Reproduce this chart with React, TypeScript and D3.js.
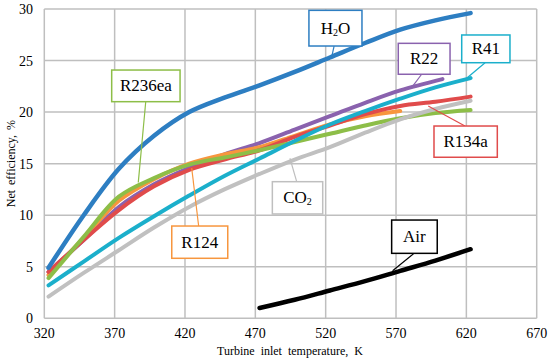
import React from "react";
import * as d3 from "d3";

const W = 550;
const H = 363;

const xTicks = [320, 370, 420, 470, 520, 570, 620, 670];
const yTicks = [0, 5, 10, 15, 20, 25, 30];

const temps = [323, 348, 373, 398, 423, 448, 473, 498, 523, 548, 573, 598, 623];
const h2oVals = [4.9, 10.0, 14.5, 17.7, 20.0, 21.4, 22.6, 23.9, 25.3, 26.7, 28.0, 28.9, 29.6];
const r41Vals = [3.2, 5.5, 7.8, 9.9, 11.9, 13.8, 15.5, 17.2, 18.8, 20.1, 21.3, 22.4, 23.3];
const r134aVals = [4.5, 7.6, 10.5, 12.8, 14.4, 15.4, 16.3, 17.6, 18.7, 19.8, 20.6, 21.0, 21.5];
const r236eaVals = [3.9, 7.9, 11.8, 13.6, 14.9, 15.6, 16.3, 17.1, 17.9, 18.7, 19.4, 19.9, 20.2];
const co2Vals = [2.1, 4.4, 6.6, 8.8, 10.8, 12.5, 14.0, 15.4, 16.6, 18.0, 19.3, 20.3, 21.1];

const r22Temps = [323, 348, 373, 398, 423, 448, 473, 498, 523, 548, 573, 603];
const r22Vals = [4.5, 7.6, 10.8, 13.0, 14.6, 15.9, 17.0, 18.3, 19.6, 20.9, 22.1, 23.2];

const r124Temps = [323, 348, 373, 398, 423, 448, 473, 498, 523, 548, 573];
const r124Vals = [4.2, 7.8, 11.4, 13.5, 15.0, 15.9, 16.6, 17.7, 18.8, 19.6, 20.1];

const airTemps = [473, 498, 523, 548, 573, 598, 623];
const airVals = [1.0, 1.8, 2.7, 3.6, 4.6, 5.6, 6.7];

const seriesNames = ["R22", "R124", "R134a", "R236ea", "R41", "CO2", "H2O", "Air"];
const seriesTemps = [r22Temps, r124Temps, temps, temps, temps, temps, temps, airTemps];
const seriesVals = [r22Vals, r124Vals, r134aVals, r236eaVals, r41Vals, co2Vals, h2oVals, airVals];
const seriesColors = ["#8A62AE", "#F7963E", "#E04B4B", "#8DBE48", "#1BAFCB", "#C0C0C0", "#2D7EC2", "#000000"];
const seriesWidths = [4, 4, 4, 4, 4, 4, 4.5, 4.5];

// annotation callouts, in data units: box [t0, v0, t1, v1], leader [t0, v0, t1, v1]
const noteNames = ["H2O", "R22", "R41", "R134a", "R236ea", "R124", "CO2", "Air"];
const noteColors = ["#2D7EC2", "#8A62AE", "#1BAFCB", "#E04B4B", "#8DBE48", "#F7963E", "#BFBFBF", "#000000"];
const noteBoxes = [
  [508.1, 29.87, 545.8, 26.41],
  [571.6, 26.67, 608.4, 23.67],
  [616.7, 27.48, 651.0, 24.79],
  [597.0, 18.65, 642.0, 15.62],
  [367.9, 24.08, 416.5, 21.01],
  [410.6, 8.95, 450.4, 5.82],
  [482.1, 13.25, 517.9, 10.12],
  [566.9, 9.53, 599.3, 6.3],
];
const noteLeaders = [
  [526.0, 26.41, 524.3, 25.37],
  [588.2, 23.67, 582.3, 22.6],
  [633.3, 24.79, 620.2, 23.28],
  [619.0, 18.65, 592.9, 20.59],
  [392.1, 21.01, 386.8, 13.17],
  [429.7, 8.95, 424.8, 14.55],
  [499.4, 13.25, 494.6, 15.52],
  [582.8, 6.3, 567.6, 4.62],
];

const FONT = '"Liberation Serif", "DejaVu Serif", serif';

function Label({ name }: { name: string }) {
  if (name === "H2O" || name === "CO2") {
    const parts = name.split("2");
    return (
      <>
        <tspan>{parts[0]}</tspan>
        <tspan fontSize={10} dy={2}>2</tspan>
        <tspan dy={-2}>{parts[1]}</tspan>
      </>
    );
  }
  return <>{name}</>;
}

export default function App() {
  const x = d3.scaleLinear().domain([320, 670]).range([44.3, 536.7]);
  const y = d3.scaleLinear().domain([0, 30]).range([318.3, 9]);

  const line = d3
    .line<[number, number]>()
    .x((d) => x(d[0]))
    .y((d) => y(d[1]))
    .curve(d3.curveCatmullRom.alpha(0.5));

  const ts = { fontFamily: FONT };

  return (
    <svg
      width={W}
      height={H}
      style={{ position: "absolute", left: 0, top: 0, background: "#fff", fontFamily: FONT }}
    >
      <rect x={0} y={0} width={W} height={H} fill="#fff" />
      {/* grid */}
      {xTicks.map((t) => (
        <line key={"gx" + t} x1={x(t)} x2={x(t)} y1={y(0)} y2={y(30)} stroke="#BFBFBF" strokeWidth={1.5} />
      ))}
      {yTicks.map((t) => (
        <line key={"gy" + t} x1={x(320)} x2={x(670)} y1={y(t)} y2={y(t)} stroke="#BFBFBF" strokeWidth={1.5} />
      ))}
      {/* tick labels */}
      {xTicks.map((t) => (
        <text key={"tx" + t} x={x(t)} y={y(0) + 20} textAnchor="middle" fontSize={14} fill="#000" style={ts}>
          {t}
        </text>
      ))}
      {yTicks.map((t) => (
        <text key={"ty" + t} x={33} y={y(t) + 5} textAnchor="end" fontSize={14} fill="#000" style={ts}>
          {t}
        </text>
      ))}
      {/* axis titles */}
      <text x={290} y={355} textAnchor="middle" fontSize={12} wordSpacing={3} fill="#000" style={ts}>
        Turbine inlet temperature, K
      </text>
      <text
        transform={`translate(15, ${(y(0) + y(30)) / 2}) rotate(-90)`}
        textAnchor="middle"
        fontSize={12}
        wordSpacing={2}
        fill="#000"
        style={ts}
      >
        Net efficiency, %
      </text>
      {/* series */}
      {seriesNames.map((n, i) => (
        <path
          key={n}
          d={line(seriesTemps[i].map((t, j) => [t, seriesVals[i][j]] as [number, number])) || ""}
          fill="none"
          stroke={seriesColors[i]}
          strokeWidth={seriesWidths[i]}
          strokeLinecap="round"
          strokeLinejoin="round"
        />
      ))}
      {/* callouts */}
      {noteNames.map((n, i) => {
        const b = noteBoxes[i];
        const l = noteLeaders[i];
        const bx = x(b[0]);
        const by = y(b[1]);
        const bw = x(b[2]) - bx;
        const bh = y(b[3]) - by;
        return (
          <g key={"n" + n}>
            <line x1={x(l[0])} y1={y(l[1])} x2={x(l[2])} y2={y(l[3])} stroke={noteColors[i]} strokeWidth={1.2} />
            <rect x={bx} y={by} width={bw} height={bh} fill="#fff" stroke={noteColors[i]} strokeWidth={1.5} />
            <text x={bx + bw / 2} y={by + bh / 2 + 5.5} textAnchor="middle" fontSize={17} fill="#000" style={ts}>
              <Label name={n} />
            </text>
          </g>
        );
      })}
    </svg>
  );
}
